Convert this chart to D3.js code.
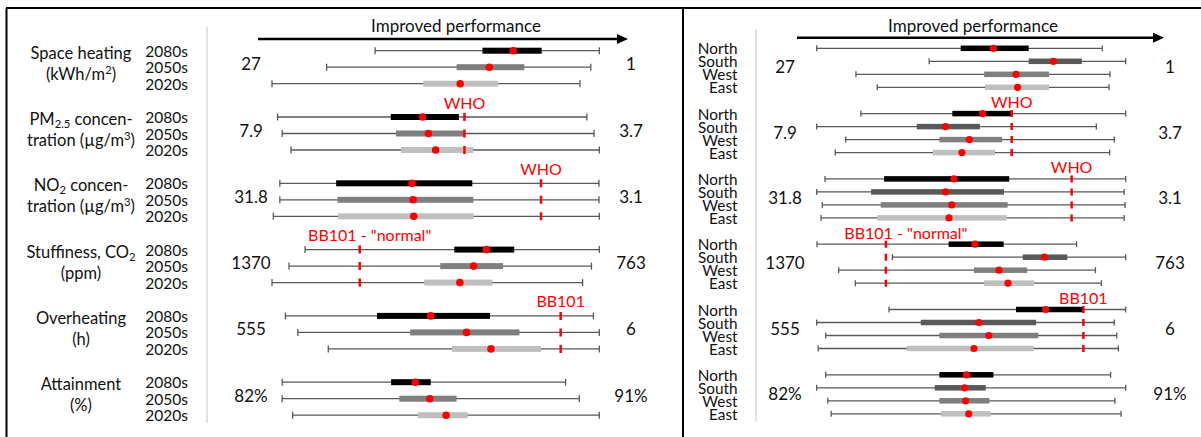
<!DOCTYPE html>
<html>
<head>
<meta charset="utf-8">
<script src="https://cdn.jsdelivr.net/npm/d3@7"></script>
<style>
  body { margin: 0; background: #fff; }
  svg text { font-family: Lato, "Open Sans", sans-serif; fill: #111; }
</style>
</head>
<body>
<svg id="chart" width="1201" height="437"></svg>
<script>
// metric names, two lines each (_{..} = subscript, ^{..} = superscript)
const metricLines = [
  ["Space heating", "(kWh/m^{2})"],
  ["PM_{2.5} concen-", "tration (µg/m^{3})"],
  ["NO_{2} concen-", "tration (µg/m^{3})"],
  ["Stuffiness, CO_{2}", "(ppm)"],
  ["Overheating", "(h)"],
  ["Attainment", "(%)"]
];
const worstLabels = ["27", "7.9", "31.8", "1370", "555", "82%"];
const bestLabels = ["1", "3.7", "3.1", "763", "6", "91%"];
const periods = ["2080s", "2050s", "2020s"];
const regions = ["North", "South", "West", "East"];
const arrowText = "Improved performance";

// scores on the normalised axis: 0 = worst label, 100 = best label
// each row: [min, q1, median, q3, max]
const periodStats = [
  [[31.5, 64.3, 73.7, 82.4, 100], [16.7, 56.4, 66.4, 77.1, 97.4], [0, 46.2, 57.5, 69.1, 94.1]],
  [[1.7, 36.3, 46.0, 57.1, 96.2], [3.1, 37.9, 47.8, 58.7, 98.4], [5.8, 39.4, 50.0, 61.5, 100]],
  [[2.4, 19.6, 42.8, 61.2, 99.9], [2.4, 20.0, 43.1, 61.5, 99.9], [0.4, 20.2, 43.3, 61.6, 100]],
  [[10.1, 55.7, 65.5, 74.0, 100], [5.2, 51.4, 61.6, 70.6, 97.6], [0, 46.5, 57.4, 67.4, 94.9]],
  [[4.1, 32.1, 48.5, 66.6, 98.2], [7.9, 42.2, 59.4, 75.6, 100], [17.2, 55.0, 66.9, 82.2, 100]],
  [[3.1, 36.4, 43.8, 48.5, 89.7], [3.1, 38.9, 48.2, 56.4, 93.9], [6.3, 44.6, 53.2, 59.8, 100]]
];
const regionStats = [
  [[0, 46.6, 57.2, 68.6, 92.4], [36.4, 68.6, 76.6, 85.8, 100], [12.7, 54.2, 64.5, 75.2, 94.9], [19.6, 54.5, 65.0, 75.2, 94.6]],
  [[14.3, 43.9, 53.7, 63.4, 100], [0, 32.4, 41.7, 52.8, 90.5], [9.4, 39.7, 49.4, 60.0, 96.3], [6.0, 37.6, 47.0, 57.7, 94.8]],
  [[2.7, 21.8, 44.4, 62.3, 100], [0, 17.6, 41.7, 60.6, 99.5], [1.8, 20.7, 43.7, 61.8, 99.8], [1.4, 19.6, 42.8, 61.5, 99.5]],
  [[0.1, 42.7, 51.2, 60.5, 84.1], [24.5, 66.7, 73.7, 81.1, 100], [7.1, 50.9, 59.0, 68.1, 90.2], [12.5, 54.2, 61.9, 70.4, 92.1]],
  [[23.4, 64.5, 74.1, 86.5, 100], [0, 33.7, 52.5, 71.0, 96.3], [2.9, 39.7, 55.7, 71.7, 97.1], [0.5, 29.2, 50.9, 70.2, 97.6]],
  [[2.9, 39.7, 48.5, 57.2, 95.1], [0, 38.2, 47.8, 54.7, 100], [3.6, 39.7, 48.2, 55.9, 96.5], [4.7, 40.2, 49.2, 56.3, 98.5]]
];
// guideline positions: [metric index, score, label]
const periodRefs = [[1, 58.8, "WHO"], [2, 82.2, "WHO"], [3, 26.8, "BB101 - \"normal\""], [4, 88.2, "BB101"]];
const regionRefs = [[1, 63.1, "WHO"], [2, 82.5, "WHO"], [3, 22.4, "BB101 - \"normal\""], [4, 86.3, "BB101"]];

const svg = d3.select("#chart");

// writes a string with _{sub} / ^{sup} parts as tspans
function richText(sel, str) {
  let shift = 0;
  str.split(/(_\{[^}]*\}|\^\{[^}]*\})/).filter(s => s).forEach(part => {
    let target = 0, txt = part, small = false;
    if (part[0] === "_") { target = 4; txt = part.slice(2, -1); small = true; }
    if (part[0] === "^") { target = -5; txt = part.slice(2, -1); small = true; }
    const t = sel.append("tspan").attr("dy", target - shift).text(txt);
    if (small) t.attr("font-size", "68%");
    shift = target;
  });
}

// frame lines
svg.append("line").attr("x1", 6).attr("x2", 1201).attr("y1", 8).attr("y2", 8)
  .attr("stroke", "#000").attr("stroke-width", 2);
svg.append("line").attr("x1", 6.5).attr("x2", 6.5).attr("y1", 8).attr("y2", 437)
  .attr("stroke", "#000").attr("stroke-width", 2);
svg.append("line").attr("x1", 683).attr("x2", 683).attr("y1", 8).attr("y2", 437)
  .attr("stroke", "#000").attr("stroke-width", 2);

function drawPanel(cfg) {
  const g = svg.append("g");
  const x = d3.scaleLinear().domain([0, 100]).range(cfg.x);
  const gy = d3.scaleLinear().domain([0, 5]).range(cfg.groupY);
  const ry = d3.scalePoint().domain(cfg.cats).range([0, cfg.rowStep * (cfg.cats.length - 1)]);
  const color = d3.scaleOrdinal().domain(cfg.cats).range(cfg.colors);
  const mid = i => gy(i) + ry(cfg.cats[cfg.cats.length - 1]) / 2;

  const rows = cfg.stats.flatMap((grp, i) => grp.map((s, j) => ({
    i, cat: cfg.cats[j], min: s[0], q1: s[1], med: s[2], q3: s[3], max: s[4],
    y: gy(i) + ry(cfg.cats[j])
  })));

  // separator
  g.append("line").attr("x1", cfg.sepX).attr("x2", cfg.sepX)
    .attr("y1", cfg.sepY[0]).attr("y2", cfg.sepY[1])
    .attr("stroke", "#d9d9d9").attr("stroke-width", 1.5);

  // arrow + title
  g.append("line").attr("x1", cfg.arrow[0]).attr("x2", cfg.arrow[1] - 8)
    .attr("y1", cfg.arrow[2]).attr("y2", cfg.arrow[2])
    .attr("stroke", "#000").attr("stroke-width", 2.5);
  g.append("path")
    .attr("d", `M${cfg.arrow[1]},${cfg.arrow[2]} l-11,-5 v10 z`)
    .attr("fill", "#000");
  g.append("text").attr("x", cfg.titleX).attr("y", cfg.titleY)
    .attr("text-anchor", "middle").attr("dominant-baseline", "central")
    .attr("font-size", 17).text(arrowText);

  // whiskers
  g.selectAll(".whisk").data(rows).join("line")
    .attr("x1", d => x(d.min)).attr("x2", d => x(d.max))
    .attr("y1", d => d.y).attr("y2", d => d.y)
    .attr("stroke", "#595959").attr("stroke-width", 1.3);
  ["min", "max"].forEach(k => {
    g.selectAll(".cap-" + k).data(rows).join("line")
      .attr("x1", d => x(d[k])).attr("x2", d => x(d[k]))
      .attr("y1", d => d.y - cfg.capH / 2).attr("y2", d => d.y + cfg.capH / 2)
      .attr("stroke", "#595959").attr("stroke-width", 1.3);
  });

  // boxes
  g.selectAll(".box").data(rows).join("rect")
    .attr("x", d => x(d.q1)).attr("width", d => x(d.q3) - x(d.q1))
    .attr("y", d => d.y - cfg.boxH / 2).attr("height", cfg.boxH)
    .attr("fill", d => color(d.cat));

  // guideline markers
  cfg.refs.forEach(([i, score, label]) => {
    const top = gy(i) - cfg.dashPad;
    const bottom = gy(i) + ry(cfg.cats[cfg.cats.length - 1]) + cfg.dashPad;
    g.append("line").attr("x1", x(score)).attr("x2", x(score))
      .attr("y1", top).attr("y2", bottom)
      .attr("stroke", "#ff0000").attr("stroke-width", 2.5)
      .attr("stroke-dasharray", cfg.dash);
    g.append("text").attr("x", x(score) + (label.length > 6 ? cfg.longShift : 0))
      .attr("y", gy(i) + cfg.refDy)
      .attr("text-anchor", "middle").attr("dominant-baseline", "central")
      .attr("font-size", 16).style("fill", "#ff0000").text(label);
  });

  // medians
  g.selectAll(".dot").data(rows).join("circle")
    .attr("cx", d => x(d.med)).attr("cy", d => d.y).attr("r", cfg.dotR)
    .attr("fill", "#ff0000");

  // category labels
  g.selectAll(".cat").data(rows).join("text")
    .attr("x", cfg.catX).attr("y", d => d.y)
    .attr("text-anchor", "end").attr("dominant-baseline", "central")
    .attr("font-size", cfg.catFont).text(d => d.cat);

  // worst / best labels
  worstLabels.forEach((s, i) => {
    g.append("text").attr("x", cfg.worstX).attr("y", mid(i) + cfg.valDy)
      .attr("text-anchor", "middle").attr("dominant-baseline", "central")
      .attr("font-size", 17).text(s);
  });
  bestLabels.forEach((s, i) => {
    g.append("text").attr("x", cfg.bestX).attr("y", mid(i) + cfg.valDy)
      .attr("text-anchor", "middle").attr("dominant-baseline", "central")
      .attr("font-size", 17).text(s);
  });

  // metric names (left panel only)
  if (cfg.metricX) {
    metricLines.forEach((lines, i) => {
      lines.forEach((ln, k) => {
        const t = g.append("text").attr("x", cfg.metricX)
          .attr("y", mid(i) - 4 + (k === 0 ? -10.5 : 10.5))
          .attr("text-anchor", "middle").attr("dominant-baseline", "central")
          .attr("font-size", 16.5);
        richText(t, ln);
      });
    });
  }
}

drawPanel({
  cats: periods, stats: periodStats, refs: periodRefs,
  colors: ["#000000", "#7f7f7f", "#bfbfbf"],
  x: [272, 599.3], groupY: [50.7, 382.2], rowStep: 16.5,
  catX: 188, catFont: 15.5, worstX: 251, bestX: 631, valDy: -3.5,
  sepX: 207, sepY: [27, 423], arrow: [258, 628, 39], titleX: 456, titleY: 25,
  boxH: 6, capH: 7, dotR: 3.8, dash: "8,8.5", dashPad: 4, refDy: -15, longShift: 10,
  metricX: 81
});

drawPanel({
  cats: regions, stats: regionStats, refs: regionRefs,
  colors: ["#000000", "#595959", "#7f7f7f", "#bfbfbf"],
  x: [816.7, 1125.7], groupY: [48.3, 374.8], rowStep: 13,
  catX: 737.5, catFont: 15.3, worstX: 785, bestX: 1170, valDy: -1,
  sepX: 756, sepY: [29, 421], arrow: [797, 1164, 37.7], titleX: 973, titleY: 25,
  boxH: 5.5, capH: 6, dotR: 3.6, dash: "7,6", dashPad: 3.5, refDy: -12, longShift: 20,
  metricX: null
});
</script>
</body>
</html>
